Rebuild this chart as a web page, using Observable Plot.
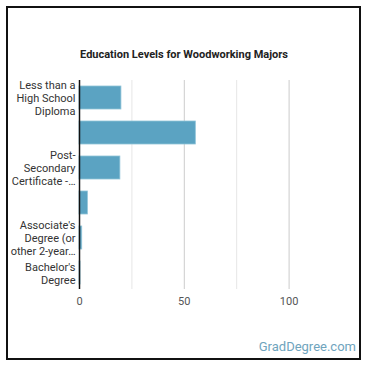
<!DOCTYPE html>
<html>
<head>
<meta charset="utf-8">
<script src="https://cdn.jsdelivr.net/npm/d3@7"></script>
<script src="https://cdn.jsdelivr.net/npm/@observablehq/plot@0.6"></script>
<style>
  html, body { margin: 0; padding: 0; background: #fff; }
  #wrap { position: relative; width: 370px; height: 370px; font-family: Roboto, "Noto Sans", sans-serif; }
  #frame { position: absolute; left: 6px; top: 6px; width: 351px; height: 350px; border: 2px solid #111; box-sizing: content-box; }
  #title { position: absolute; left: 0; width: 368px; top: 48px; text-align: center; font-weight: bold; font-size: 11px; color: #222; }
  #credit { position: absolute; right: 14px; top: 339px; font-size: 13px; color: #6fa4bd; }
  #chart { position: absolute; left: 0; top: 0; }
</style>
</head>
<body>
<div id="wrap">
  <div id="frame"></div>
  <div id="chart"></div>
  <div id="title">Education Levels for Woodworking Majors</div>
  <div id="credit">GradDegree.com</div>
</div>
<script>
const categories = [
  "Less than a High School Diploma",
  "High School Diploma",
  "Post-Secondary Certificate - Awarded for training completed after high school",
  "Some College Courses",
  "Associate's Degree (or other 2-year degree)",
  "Bachelor's Degree"
];
const tickLabels = [
  "Less than a\nHigh School\nDiploma",
  "",
  "Post-\nSecondary\nCertificate -…",
  "",
  "Associate's\nDegree (or\nother 2-year…",
  "Bachelor's\nDegree"
];
const values = [20, 55.5, 19.5, 4, 1.3, 0.5];
const majorTicks = [0, 50, 100];
const minorTicks = [25, 75];

const data = categories.map((c, i) => ({category: c, value: values[i], label: tickLabels[i]}));
const labelOf = new Map(data.map(d => [d.category, d.label]));

const chart = Plot.plot({
  width: 370,
  height: 370,
  marginLeft: 79,
  marginRight: 29,
  marginTop: 80,
  marginBottom: 81,
  style: {fontFamily: "Roboto, 'Noto Sans', sans-serif", fontSize: "11px", background: "transparent"},
  x: {domain: [0, 125], label: null},
  y: {domain: categories, paddingInner: 0.35, paddingOuter: 0.16, label: null},
  marks: [
    Plot.ruleX(minorTicks, {stroke: "#e6e6e6", strokeWidth: 1}),
    Plot.ruleX(majorTicks.filter(d => d > 0), {stroke: "#cccccc", strokeWidth: 1}),
    Plot.barX(data, {x: "value", y: "category", fill: "#5ba3c2", stroke: "#8fc3d8", strokeWidth: 0.8}),
    Plot.axisX(majorTicks, {tickSize: 0, tickPadding: 8, fill: "#555", fontSize: 11, label: null}),
    Plot.axisY({tickSize: 0, tickPadding: 4, fill: "#333", fontSize: 11, lineHeight: 1.2, tickFormat: d => labelOf.get(d), textOverflow: null, label: null}),
    Plot.ruleX([0], {stroke: "#111", strokeWidth: 1.5})
  ]
});
document.getElementById("chart").appendChild(chart);
</script>
</body>
</html>
